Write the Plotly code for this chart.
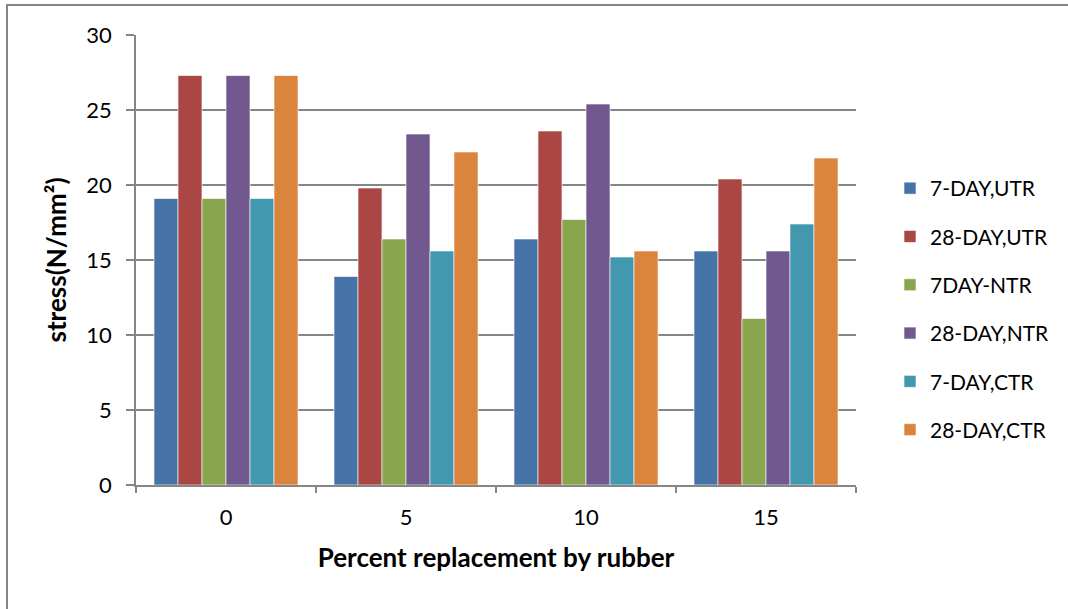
import plotly.graph_objects as go

categories = ["0", "5", "10", "15"]
series_names = ["7-DAY,UTR", "28-DAY,UTR", "7DAY-NTR", "28-DAY,NTR", "7-DAY,CTR", "28-DAY,CTR"]
day7_utr = [19.1, 13.9, 16.4, 15.6]
day28_utr = [27.3, 19.8, 23.6, 20.4]
day7_ntr = [19.1, 16.4, 17.7, 11.1]
day28_ntr = [27.3, 23.4, 25.4, 15.6]
day7_ctr = [19.1, 15.6, 15.2, 17.4]
day28_ctr = [27.3, 22.2, 15.6, 21.8]
colors = ["#4572A7", "#AA4643", "#89A54E", "#71588F", "#4198AF", "#DB843D"]

all_series = [day7_utr, day28_utr, day7_ntr, day28_ntr, day7_ctr, day28_ctr]

W, H = 1068, 609
L, R, T, B = 136, 212, 35, 124

fig = go.Figure()
for name, vals, col in zip(series_names, all_series, colors):
    fig.add_trace(go.Bar(
        x=categories, y=vals, name=name, legendgroup=name,
        marker=dict(color=col, line=dict(color="rgba(255,255,255,0.6)", width=1)),
    ))

pw, ph = W - L - R, H - T - B
def px_x(p):
    return (p - L) / pw
def px_y(p):
    return (H - B - p) / ph

fig.update_layout(
    width=W, height=H,
    margin=dict(l=L, r=R, t=T, b=B, pad=0),
    paper_bgcolor="white", plot_bgcolor="white",
    barmode="group", bargap=0.2, bargroupgap=0,
    font=dict(family="Lato", color="black"),
    legend=dict(
        x=px_x(890), y=px_y(168), xanchor="left", yanchor="top",
        font=dict(size=21, family="Lato"), tracegroupgap=18,
        itemwidth=30, bgcolor="rgba(0,0,0,0)",
    ),
    xaxis=dict(
        showline=True, linecolor="#868686", linewidth=1.5,
        ticks="outside", ticklen=6, tickcolor="#868686", tickwidth=1.5,
        tickson="boundaries", showgrid=False,
        tickfont=dict(size=22), ticklabelstandoff=12,
        title=dict(text="<b>Percent replacement by rubber</b>", font=dict(size=26), standoff=20),
    ),
    yaxis=dict(
        range=[0, 30], dtick=5, showline=True, linecolor="#868686", linewidth=1.5,
        ticks="outside", ticklen=8, tickcolor="#868686", tickwidth=1.5,
        showgrid=True, gridcolor="#868686", gridwidth=1.5, zeroline=False,
        tickfont=dict(size=22), ticklabelstandoff=10,
        title=dict(text="<b>stress(N/mm²)</b>", font=dict(size=26), standoff=12),
    ),
    shapes=[dict(
        type="rect", xref="paper", yref="paper",
        x0=px_x(7), x1=px_x(1080), y0=px_y(620), y1=px_y(5),
        line=dict(color="#868686", width=2), fillcolor="rgba(0,0,0,0)", layer="below",
    )],
)

fig.write_html("out.html")
